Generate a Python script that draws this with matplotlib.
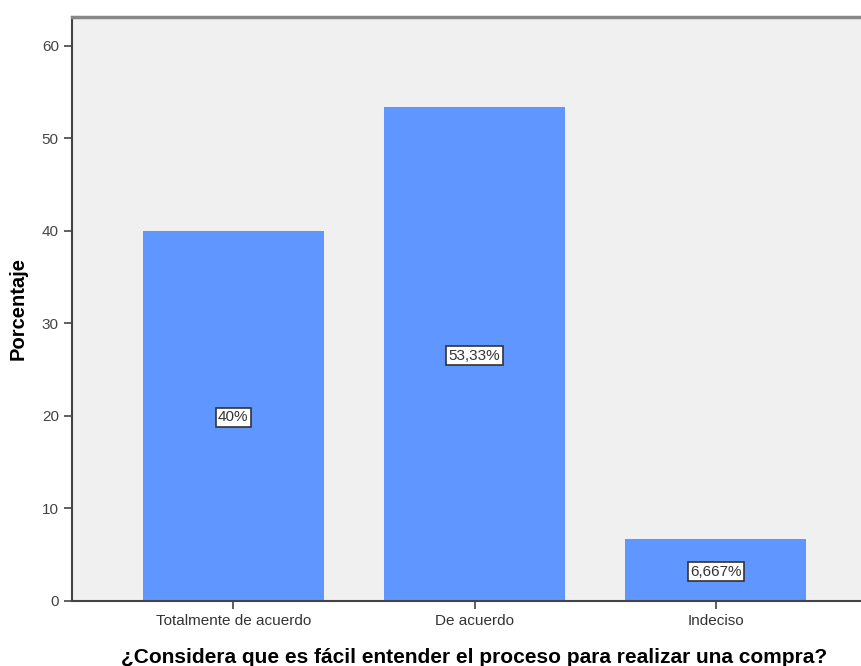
import matplotlib.pyplot as plt

plt.rcParams['font.family'] = ['Liberation Sans', 'DejaVu Sans']

categorias = ['Totalmente de acuerdo', 'De acuerdo', 'Indeciso']
porcentajes = [40.0, 53.33, 6.667]
etiquetas = ['40%', '53,33%', '6,667%']

fig = plt.figure(figsize=(8.62, 6.66), dpi=100)
ax = fig.add_axes([0.0835, 0.0976, 0.934, 0.877])
ax.set_facecolor('#f0f0f0')

x = range(len(categorias))
ax.bar(x, porcentajes, width=0.75, color='#5f96ff')

# etiqueta con el valor en el centro de cada barra
for i, v in enumerate(porcentajes):
    ax.text(i, v / 2, etiquetas[i], ha='center', va='center_baseline', fontsize=11, color='#333333',
            bbox=dict(boxstyle='square,pad=0.15', facecolor='white', edgecolor='#333333', linewidth=1.2))

ax.set_xlim(-0.668, 2.668)
ax.set_ylim(0, 63.1)
ax.set_yticks([0, 10, 20, 30, 40, 50, 60])
ax.set_xticks(list(x))
ax.set_xticklabels(categorias, fontsize=11, color='#333333')
ax.tick_params(axis='y', labelsize=11, labelcolor='#444444', length=6, width=1.2, color='#444444')
ax.tick_params(axis='x', length=6, width=1.2, color='#444444')

for s in ['top', 'right']:
    ax.spines[s].set_color('#888888')
    ax.spines[s].set_linewidth(2.5)
for s in ['left', 'bottom']:
    ax.spines[s].set_color('#444444')
    ax.spines[s].set_linewidth(1.5)

ax.set_ylabel('Porcentaje', fontsize=14.5, fontweight='bold', labelpad=10)
ax.set_xlabel('¿Considera que es fácil entender el proceso para realizar una compra?',
              fontsize=15, fontweight='bold', labelpad=14)

fig.savefig('out.png', dpi=100)
